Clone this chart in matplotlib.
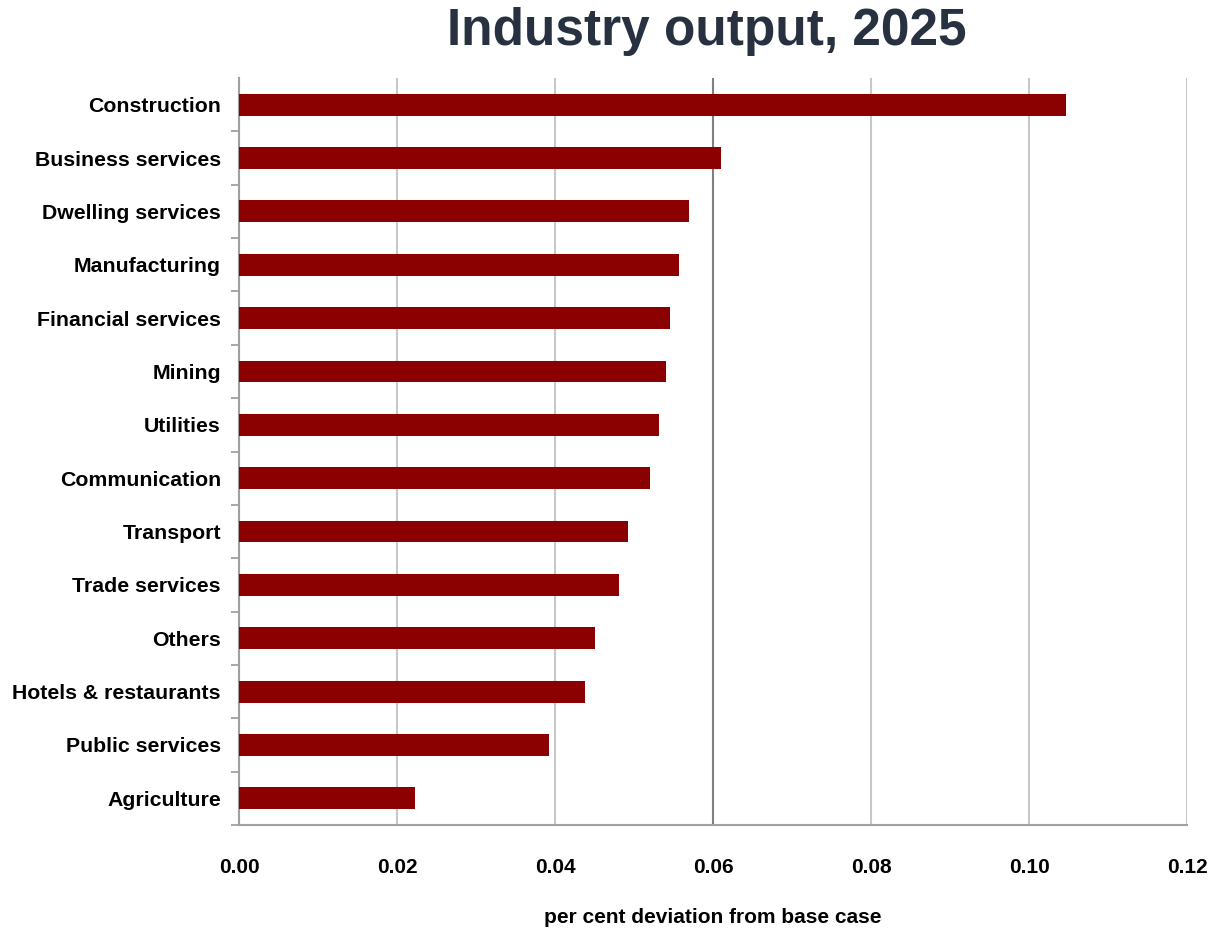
import matplotlib
matplotlib.use("Agg")
import matplotlib.pyplot as plt
import numpy as np

industries = [
    "Construction", "Business services", "Dwelling services", "Manufacturing",
    "Financial services", "Mining", "Utilities", "Communication", "Transport",
    "Trade services", "Others", "Hotels & restaurants", "Public services", "Agriculture",
]
deviation = [0.1047, 0.0610, 0.0570, 0.0557, 0.0546, 0.0541, 0.0532,
             0.0520, 0.0492, 0.0481, 0.0451, 0.0438, 0.0392, 0.0223]
xticks = [0.00, 0.02, 0.04, 0.06, 0.08, 0.10, 0.12]

FONT = ["Liberation Sans", "DejaVu Sans"]
BAR = "#8B0000"

fig = plt.figure(figsize=(12.15, 9.38), dpi=100)
ax = fig.add_axes([0.1967, 0.1205, 0.7803, 0.7963])

y = np.arange(len(industries))
ax.barh(y, deviation, height=0.41, color=BAR, zorder=3)
ax.set_ylim(len(industries) - 0.5, -0.5)
ax.set_xlim(0, 0.12)

ax.set_xticks(xticks)
ax.set_xticklabels([f"{t:.2f}" for t in xticks], fontsize=15, fontweight="bold", family=FONT)
ax.tick_params(axis="x", length=0, pad=24)

ax.set_yticks(y)
ax.set_yticklabels(industries, fontsize=15.3, fontweight="bold", family=FONT)
# separators between categories (none at the very top)
ax.set_yticks(np.arange(1, len(industries) + 1) - 0.5, minor=True)
ax.tick_params(axis="y", which="major", length=0, pad=13)
ax.tick_params(axis="y", which="minor", length=6, color="#999999", width=1.2)

ax.grid(axis="x", color="#c8c8c8", lw=1.5, zorder=0)
for gl, t in zip(ax.get_xgridlines(), xticks):
    if abs(t - 0.06) < 1e-9:
        gl.set_color("#808080")

for side in ["top", "right"]:
    ax.spines[side].set_visible(False)
for side in ["left", "bottom"]:
    ax.spines[side].set_color("#a0a0a0")
    ax.spines[side].set_linewidth(1.5)

ax.set_xlabel("per cent deviation from base case", fontsize=15, fontweight="bold",
              family=FONT, labelpad=22)
fig.suptitle("Industry output, 2025", x=0.582, y=0.993, fontsize=37,
             fontweight="bold", color="#27313f", family=FONT)

fig.savefig("out.png", dpi=100)
